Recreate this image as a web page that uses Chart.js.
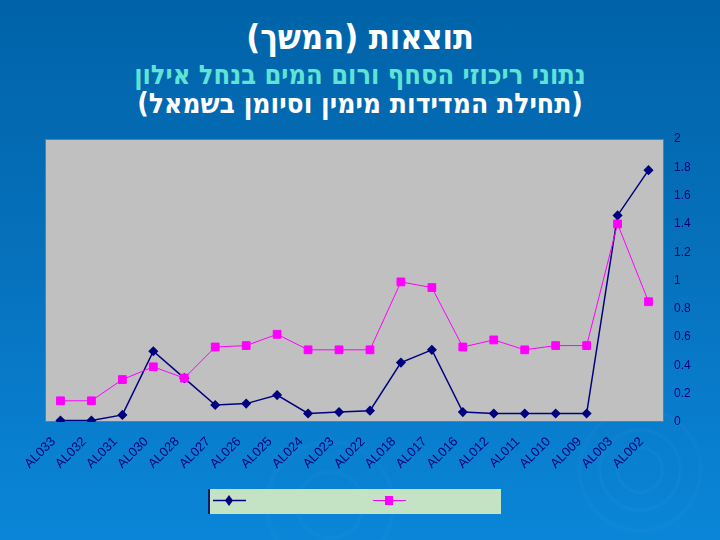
<!DOCTYPE html>
<html lang="he">
<head>
<meta charset="utf-8">
<script src="https://cdn.jsdelivr.net/npm/chart.js@4"></script>
<style>
    html, body { margin: 0; padding: 0; }
    body {
        width: 720px; height: 540px; overflow: hidden; position: relative;
        background:
            radial-gradient(circle at 640px 470px, transparent 20px, rgba(255,255,255,0.03) 22px, transparent 25px, transparent 38px, rgba(255,255,255,0.03) 40px, transparent 43px, transparent 58px, rgba(255,255,255,0.025) 60px, transparent 64px),
            radial-gradient(circle at 330px 505px, transparent 30px, rgba(255,255,255,0.025) 33px, transparent 36px, transparent 60px, rgba(255,255,255,0.025) 63px, transparent 67px),
            linear-gradient(to bottom, #0063a8 0%, #0670bb 45%, #0a86d8 100%);
        font-family: "DejaVu Sans Condensed", "DejaVu Sans", sans-serif;
    }
    .title { position: absolute; left: 0; width: 720px; text-align: center; direction: rtl; font-weight: bold; line-height: 1; }
    #t1 { top: 20px; font-size: 34px; color: #ffffff; }
    #t2 { top: 61px; font-size: 27px; color: #5fe3d4; }
    #t3 { top: 90px; font-size: 28px; color: #ffffff; }
    #wrap { position: absolute; left: 0; top: 0; width: 720px; height: 540px; }
</style>
</head>
<body>
<div class="title" id="t1">תוצאות (המשך)</div>
<div class="title" id="t2">נתוני ריכוזי הסחף ורום המים בנחל אילון</div>
<div class="title" id="t3">(תחילת המדידות מימין וסיומן בשמאל)</div>
<div id="wrap"><canvas id="chart" width="720" height="540"></canvas></div>
<script>
const stations = ["AL033", "AL032", "AL031", "AL030", "AL028", "AL027", "AL026", "AL025", "AL024", "AL023",
    "AL022", "AL018", "AL017", "AL016", "AL012", "AL011", "AL010", "AL009", "AL003", "AL002"];

// navy series (diamonds)
const sediment = [0.01, 0.01, 0.05, 0.50, 0.31, 0.12, 0.13, 0.19, 0.06, 0.07,
    0.08, 0.42, 0.51, 0.07, 0.06, 0.06, 0.06, 0.06, 1.46, 1.78];

// pink series (squares)
const waterLevel = [0.15, 0.15, 0.30, 0.39, 0.31, 0.53, 0.54, 0.62, 0.51, 0.51,
    0.51, 0.99, 0.95, 0.53, 0.58, 0.51, 0.54, 0.54, 1.40, 0.85];

const yMin = 0, yMax = 2, yStep = 0.2;

const NAVY = "#000080";
const PINK = "#ff00ff";

// gray plot area
const plotBg = {
    id: "plotBg",
    beforeDraw(chart) {
        const { ctx, chartArea: a } = chart;
        ctx.save();
        ctx.fillStyle = "#c0c0c0";
        ctx.fillRect(a.left, a.top, a.width, a.height);
        ctx.strokeStyle = "#5a7fa6";
        ctx.lineWidth = 1;
        ctx.strokeRect(a.left + 0.5, a.top + 0.5, a.width - 1, a.height - 1);
        ctx.restore();
    }
};

// legend box without labels, like the original
const boxLegend = {
    id: "boxLegend",
    afterDraw(chart) {
        const ctx = chart.ctx;
        ctx.save();
        ctx.fillStyle = "#c4e2c4";
        ctx.fillRect(208, 489, 293, 25);
        ctx.fillStyle = "#1a1a60";
        ctx.fillRect(208, 489, 2, 25);

        ctx.lineWidth = 1.5;
        ctx.strokeStyle = NAVY;
        ctx.beginPath(); ctx.moveTo(213, 500.5); ctx.lineTo(246, 500.5); ctx.stroke();
        ctx.fillStyle = NAVY;
        ctx.beginPath();
        ctx.moveTo(229, 495); ctx.lineTo(233, 500.5); ctx.lineTo(229, 506); ctx.lineTo(225, 500.5);
        ctx.closePath(); ctx.fill();

        ctx.lineWidth = 1;
        ctx.strokeStyle = PINK;
        ctx.beginPath(); ctx.moveTo(373, 500.5); ctx.lineTo(406, 500.5); ctx.stroke();
        ctx.fillStyle = PINK;
        ctx.fillRect(385, 496, 8, 9);
        ctx.restore();
    }
};

new Chart(document.getElementById("chart"), {
    type: "line",
    data: {
        labels: stations,
        datasets: [
            {
                label: "",
                data: sediment,
                order: 1,
                borderColor: NAVY,
                backgroundColor: NAVY,
                borderWidth: 1.5,
                pointStyle: "rectRot",
                pointRadius: 4,
                tension: 0
            },
            {
                label: "",
                data: waterLevel,
                order: 0,
                borderColor: PINK,
                backgroundColor: PINK,
                borderWidth: 1,
                pointStyle: "rect",
                pointRadius: 5.5,
                tension: 0
            }
        ]
    },
    options: {
        responsive: false,
        animation: false,
        devicePixelRatio: 1,
        layout: { padding: { left: 45, top: 139, right: 0, bottom: 0 } },
        plugins: {
            legend: { display: false },
            tooltip: { enabled: false }
        },
        scales: {
            x: {
                offset: true,
                grid: { display: false, drawTicks: false },
                border: { display: false },
                afterFit(scale) { scale.height = 118; },
                ticks: {
                    color: NAVY,
                    font: { family: "Liberation Sans", size: 13 },
                    minRotation: 45,
                    maxRotation: 45,
                    autoSkip: false,
                    padding: 12,
                    labelOffset: -7
                }
            },
            y: {
                position: "right",
                min: yMin,
                max: yMax,
                grid: { display: false, drawTicks: false },
                border: { display: false },
                afterFit(scale) { scale.width = 56; },
                ticks: {
                    stepSize: yStep,
                    color: NAVY,
                    font: { family: "Liberation Sans", size: 12 },
                    padding: 10,
                    callback: v => String(Number(v.toFixed(1)))
                }
            }
        }
    },
    plugins: [plotBg, boxLegend]
});
</script>
</body>
</html>
